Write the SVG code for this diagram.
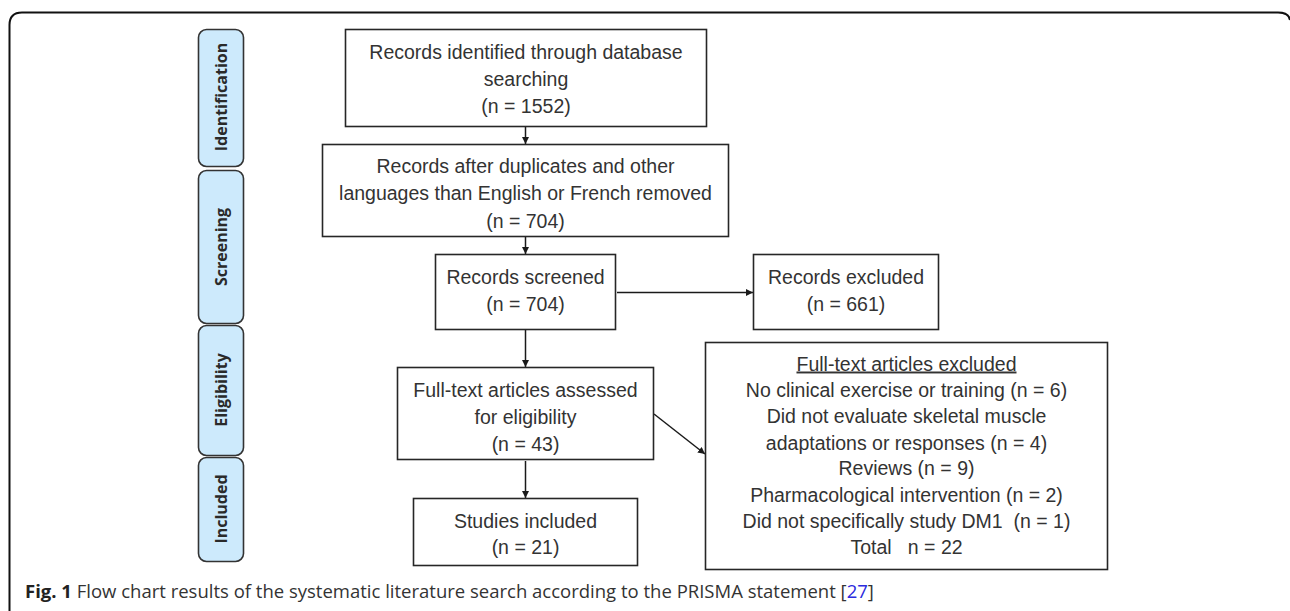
<svg xmlns="http://www.w3.org/2000/svg" width="1290" height="611" viewBox="0 0 1290 611">
<defs>
<style>
.box{fill:#fff;stroke:#262626;stroke-width:1.6}
.side{fill:#cdeafc;stroke:#333;stroke-width:1.6}
.t{font-family:"Liberation Sans",Arial,sans-serif;font-size:19.5px;fill:#333;text-anchor:middle}
.s{font-family:"Open Sans","Liberation Sans",Arial,sans-serif;font-size:16px;font-weight:bold;fill:#2a2a2a;text-anchor:middle}
.cap{font-family:"Open Sans","Liberation Sans",sans-serif;font-size:18.5px;fill:#333}
.conn{stroke:#1a1a1a;stroke-width:1.5;fill:none}
</style>
<marker id="ah" viewBox="0 0 10 10" refX="10" refY="5" markerWidth="7" markerHeight="7" markerUnits="userSpaceOnUse" orient="auto">
<path d="M0,0 L10,5 L0,10 z" fill="#1a1a1a"/>
</marker>
</defs>
<rect width="1290" height="611" fill="#fff"/>
<path d="M9.5,611 L9.5,25 Q9.5,12.5 22,12.5 L1278,12.5 Q1289,12.5 1290,20" fill="none" stroke="#111" stroke-width="2"/>

<g id="side-identification"><rect class="side" x="198.5" y="29.5" width="45" height="137" rx="8"/><text class="s" transform="translate(226.5,97) rotate(-90)">Identification</text></g>
<g id="side-screening"><rect class="side" x="198.5" y="170.5" width="45" height="153" rx="8"/><text class="s" transform="translate(226.5,247) rotate(-90)">Screening</text></g>
<g id="side-eligibility"><rect class="side" x="198.5" y="325.5" width="45" height="130" rx="8"/><text class="s" transform="translate(226.5,390) rotate(-90)">Eligibility</text></g>
<g id="side-included"><rect class="side" x="198.5" y="457.5" width="45" height="104" rx="8"/><text class="s" transform="translate(226.5,509) rotate(-90)">Included</text></g>

<g id="connectors">
<line class="conn" x1="525.5" y1="127" x2="525.5" y2="144" marker-end="url(#ah)"/>
<line class="conn" x1="525.5" y1="237" x2="525.5" y2="254" marker-end="url(#ah)"/>
<line class="conn" x1="617" y1="292.5" x2="753" y2="292.5" marker-end="url(#ah)"/>
<line class="conn" x1="525.5" y1="330" x2="525.5" y2="367" marker-end="url(#ah)"/>
<line class="conn" x1="654" y1="414" x2="705" y2="454" marker-end="url(#ah)"/>
<line class="conn" x1="525.5" y1="461" x2="525.5" y2="498" marker-end="url(#ah)"/>
</g>

<g id="n-identified"><rect class="box" x="345.5" y="29.5" width="361" height="97"/>
<text class="t" x="526" y="59">Records identified through database</text>
<text class="t" x="526" y="86">searching</text>
<text class="t" x="526" y="113">(n = 1552)</text></g>

<g id="n-duplicates"><rect class="box" x="322.5" y="144.5" width="406" height="92"/>
<text class="t" x="525.5" y="172.5">Records after duplicates and other</text>
<text class="t" x="525.5" y="199.5">languages than English or French removed</text>
<text class="t" x="525.5" y="227.5">(n = 704)</text></g>

<g id="n-screened"><rect class="box" x="435.5" y="254.5" width="180" height="75"/>
<text class="t" x="525.5" y="283.5">Records screened</text>
<text class="t" x="525.5" y="310.5">(n = 704)</text></g>

<g id="n-excluded"><rect class="box" x="753.5" y="254.5" width="185" height="75"/>
<text class="t" x="846" y="283.5">Records excluded</text>
<text class="t" x="846" y="310.5">(n = 661)</text></g>

<g id="n-fulltext"><rect class="box" x="397.5" y="367.5" width="256" height="92"/>
<text class="t" x="525.5" y="396.5">Full-text articles assessed</text>
<text class="t" x="525.5" y="423.5">for eligibility</text>
<text class="t" x="525.5" y="450.5">(n = 43)</text></g>

<g id="n-ftexcluded"><rect class="box" x="705.5" y="342.5" width="402" height="227"/>
<text class="t" x="906.5" y="370.5" text-decoration="underline">Full-text articles excluded</text>
<text class="t" x="906.5" y="396.5">No clinical exercise or training (n = 6)</text>
<text class="t" x="906.5" y="422.5">Did not evaluate skeletal muscle</text>
<text class="t" x="906.5" y="449.5">adaptations or responses (n = 4)</text>
<text class="t" x="906.5" y="474.5">Reviews (n = 9)</text>
<text class="t" x="906.5" y="501.5">Pharmacological intervention (n = 2)</text>
<text class="t" x="906.5" y="527.5" xml:space="preserve">Did not specifically study DM1  (n = 1)</text>
<text class="t" x="906.5" y="553.5" xml:space="preserve">Total   n = 22</text></g>

<g id="n-included"><rect class="box" x="413.5" y="498.5" width="224" height="67"/>
<text class="t" x="525.5" y="527.5">Studies included</text>
<text class="t" x="525.5" y="553.5">(n = 21)</text></g>

<text class="cap" x="25" y="598"><tspan font-weight="bold" fill="#222">Fig. 1</tspan> Flow chart results of the systematic literature search according to the PRISMA statement [<tspan fill="#2b2bdd">27</tspan>]</text>
</svg>
